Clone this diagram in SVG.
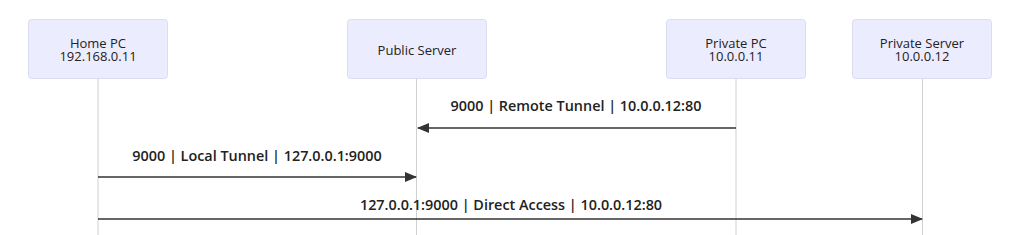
<svg xmlns="http://www.w3.org/2000/svg" width="1024" height="235" viewBox="0 0 1024 235">
<style>
.box{fill:#ECECFF;stroke:#dcdcef;stroke-width:1}
.life{stroke:#d0d0d0;stroke-width:1}
.nt{font-family:"Open Sans",sans-serif;font-size:13px;fill:#222;text-anchor:middle}
.msg{stroke:#333;stroke-width:1.5;fill:none}
.ml{font-family:"Open Sans",sans-serif;font-size:14.4px;font-weight:600;fill:#222;text-anchor:middle}
</style>
<defs>
<marker id="ah" markerWidth="12" markerHeight="10" refX="11" refY="5" orient="auto" markerUnits="userSpaceOnUse">
<path d="M0,0 L12,5 L0,10 z" fill="#333"/>
</marker>
</defs>
<rect width="1024" height="235" fill="#fff"/>
<g id="lifelines">
<line class="life" x1="98" y1="79" x2="98" y2="235"/>
<line class="life" x1="416.5" y1="79" x2="416.5" y2="235"/>
<line class="life" x1="736" y1="79" x2="736" y2="235"/>
<line class="life" x1="922.5" y1="79" x2="922.5" y2="235"/>
</g>
<g id="home-pc">
<rect class="box" x="28.5" y="19.5" width="139" height="59" rx="3"/>
<text class="nt" x="98" y="47.5">Home PC</text>
<text class="nt" x="98" y="61">192.168.0.11</text>
</g>
<g id="public-server">
<rect class="box" x="347.5" y="19.5" width="139" height="59" rx="3"/>
<text class="nt" x="417" y="55">Public Server</text>
</g>
<g id="private-pc">
<rect class="box" x="666.5" y="19.5" width="139" height="59" rx="3"/>
<text class="nt" x="736" y="47.5">Private PC</text>
<text class="nt" x="736" y="61">10.0.0.11</text>
</g>
<g id="private-server">
<rect class="box" x="852.5" y="19.5" width="139" height="59" rx="3"/>
<text class="nt" x="922" y="47.5">Private Server</text>
<text class="nt" x="922" y="61">10.0.0.12</text>
</g>
<g id="connectors">
<line class="msg" x1="736" y1="128" x2="418" y2="128" marker-end="url(#ah)"/>
<text class="ml" x="576" y="111">9000 | Remote Tunnel | 10.0.0.12:80</text>
<line class="msg" x1="98" y1="177" x2="416" y2="177" marker-end="url(#ah)"/>
<text class="ml" x="257" y="161">9000 | Local Tunnel | 127.0.0.1:9000</text>
<line class="msg" x1="98" y1="219" x2="922" y2="219" marker-end="url(#ah)"/>
<text class="ml" x="511" y="210">127.0.0.1:9000 | Direct Access | 10.0.0.12:80</text>
</g>
</svg>
